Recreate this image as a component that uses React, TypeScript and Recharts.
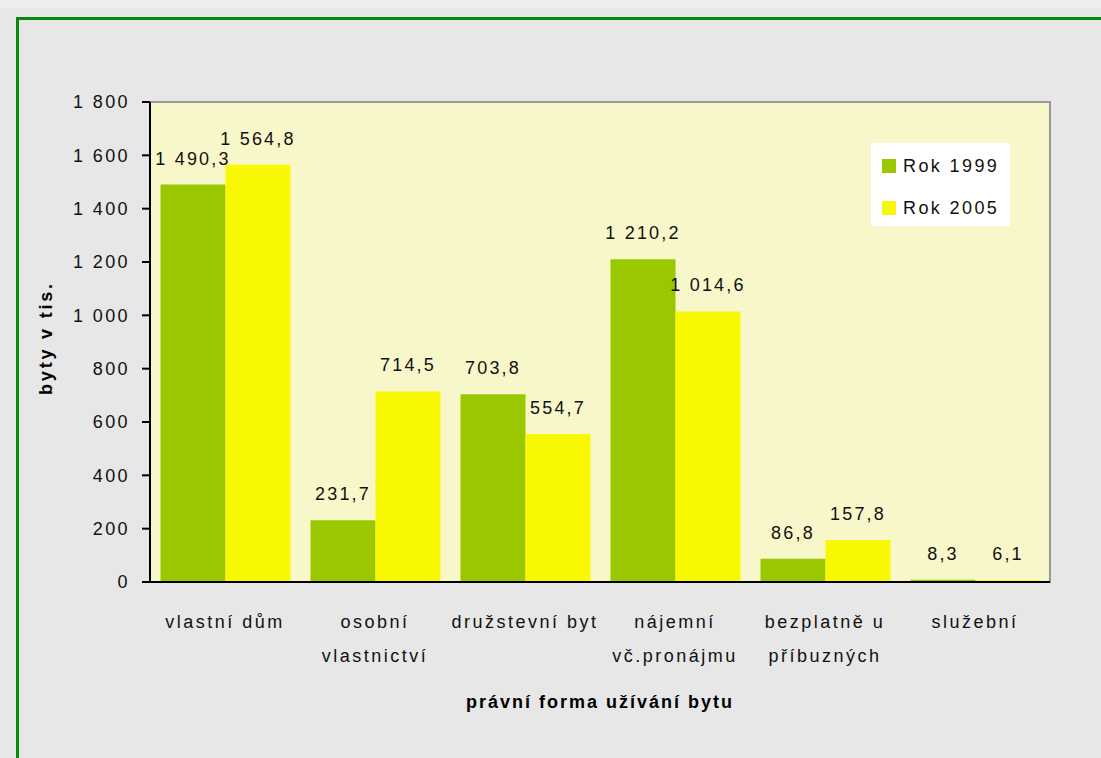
import React from "react";
import {
  ComposedChart,
  Bar,
  XAxis,
  YAxis,
  LabelList,
  Legend,
  ReferenceArea,
  Label,
} from "recharts";

const categories = [
  "vlastní dům",
  "osobní\nvlastnictví",
  "družstevní byt",
  "nájemní\nvč.pronájmu",
  "bezplatně u\npříbuzných",
  "služební",
];
const rok1999 = [1490.3, 231.7, 703.8, 1210.2, 86.8, 8.3];
const rok2005 = [1564.8, 714.5, 554.7, 1014.6, 157.8, 6.1];
const seriesNames = ["Rok 1999", "Rok 2005"];
const seriesColors = ["#99c800", "#f8f800"];
const yTicks = [0, 200, 400, 600, 800, 1000, 1200, 1400, 1600, 1800];
const boundaryTicks = [0, 1, 2, 3, 4, 5, 6];

const data = categories.map((c, i) => ({
  cat: c,
  idx: i + 0.5,
  r1999: rok1999[i],
  r2005: rok2005[i],
}));

const FONT = "'Liberation Sans', Arial, sans-serif";
const LS = 2.4;

const fmtThousands = (v: number) => {
  const s = String(Math.round(v));
  return s.replace(/\B(?=(\d{3})+(?!\d))/g, " ");
};
const fmtValue = (v: number) => {
  const [ip, dp] = v.toFixed(1).split(".");
  return ip.replace(/\B(?=(\d{3})+(?!\d))/g, " ") + "," + dp;
};

const CatTick = (props: any) => {
  const { x, y, payload } = props;
  const lines = String(payload.value).split("\n");
  return (
    <g>
      {lines.map((ln: string, i: number) => (
        <text
          key={i}
          x={x}
          y={y + 28 + i * 34}
          textAnchor="middle"
          fontFamily={FONT}
          fontSize={18}
          letterSpacing={2.5}
          fill="#111"
        >
          {ln}
        </text>
      ))}
    </g>
  );
};

const LegendBox = () => (
  <div
    style={{
      background: "#ffffff",
      width: 139,
      height: 83,
      boxSizing: "border-box",
      paddingLeft: 11,
      paddingTop: 2,
      fontFamily: FONT,
      fontSize: 18,
      letterSpacing: 2.4,
      color: "#111",
      textAlign: "left",
    }}
  >
    {seriesNames.map((n, i) => (
      <div
        key={n}
        style={{ display: "flex", alignItems: "center", height: 42 }}
      >
        <span
          style={{
            display: "inline-block",
            width: 14,
            height: 14,
            background: seriesColors[i],
            marginRight: 7,
          }}
        />
        <span>{n}</span>
      </div>
    ))}
  </div>
);

export default function App() {
  return (
    <div
      style={{
        position: "absolute",
        left: 0,
        top: 0,
        width: 1101,
        height: 758,
        background: "#e7e7e7",
        overflow: "hidden",
      }}
    >
      <div
        style={{
          position: "absolute",
          left: 0,
          top: 0,
          width: 1101,
          height: 8,
          background: "#eeeeee",
        }}
      />
      <div
        style={{
          position: "absolute",
          left: 16,
          top: 17,
          width: 1120,
          height: 760,
          border: "3px solid #0a8a0a",
          boxSizing: "border-box",
        }}
      />
      <div style={{ position: "absolute", left: 0, top: 0 }}>
        <ComposedChart
          width={1101}
          height={758}
          data={data}
          margin={{ top: 102, right: 51, left: 0, bottom: 20 }}
          barCategoryGap="7%"
          barGap={0}
        >
          <XAxis
            xAxisId="b"
            type="number"
            dataKey="idx"
            domain={[0, 6]}
            ticks={boundaryTicks}
            allowDataOverflow
            height={10}
            tickSize={8}
            tick={false}
            axisLine={{ stroke: "#000", strokeWidth: 2 }}
            tickLine={{ stroke: "#000", strokeWidth: 2 }}
          />
          <XAxis
            xAxisId="c"
            dataKey="cat"
            height={146}
            axisLine={false}
            tickLine={false}
            tick={<CatTick />}
            interval={0}
          >
            <Label
              content={(p: any) => {
                const vb = p.viewBox;
                return (
                  <text
                    x={vb.x + vb.width / 2}
                    y={708}
                    textAnchor="middle"
                    fontFamily={FONT}
                    fontSize={18}
                    fontWeight="bold"
                    letterSpacing={2}
                    fill="#000"
                  >
                    právní forma užívání bytu
                  </text>
                );
              }}
            />
          </XAxis>
          <YAxis
            width={150}
            domain={[0, 1800]}
            ticks={yTicks}
            tickFormatter={fmtThousands}
            tickSize={8}
            tickMargin={12}
            axisLine={{ stroke: "#000", strokeWidth: 2 }}
            tickLine={{ stroke: "#000", strokeWidth: 2 }}
            tick={{ fontFamily: FONT, fontSize: 18, fill: "#111", letterSpacing: LS }}
            allowDataOverflow
          >
            <Label
              content={() => (
                <text
                  x={52}
                  y={338}
                  textAnchor="middle"
                  transform="rotate(-90 52 338)"
                  fontFamily={FONT}
                  fontSize={18}
                  fontWeight="bold"
                  letterSpacing={2.8}
                  fill="#000"
                >
                  byty v tis.
                </text>
              )}
            />
          </YAxis>
          <ReferenceArea
            xAxisId="b"
            x1={0}
            x2={6}
            y1={0}
            y2={1800}
            fill="#f8f7c9"
            fillOpacity={1}
            stroke="none"
            ifOverflow="visible"
          />
          <Legend
            layout="horizontal"
            verticalAlign="middle"
            align="center"
            wrapperStyle={{ left: 871, top: 143, width: 139, height: 83 }}
            content={<LegendBox />}
          />
          <Bar
            xAxisId="c"
            dataKey="r1999"
            name={seriesNames[0]}
            fill={seriesColors[0]}
            isAnimationActive={false}
          >
            <LabelList
              dataKey="r1999"
              position="top"
              offset={20}
              formatter={(v: any) => fmtValue(Number(v))}
              style={{ fontFamily: FONT, fontSize: 18, fill: "#111", letterSpacing: 2.2 }}
            />
          </Bar>
          <Bar
            xAxisId="c"
            dataKey="r2005"
            name={seriesNames[1]}
            fill={seriesColors[1]}
            isAnimationActive={false}
          >
            <LabelList
              dataKey="r2005"
              position="top"
              offset={20}
              formatter={(v: any) => fmtValue(Number(v))}
              style={{ fontFamily: FONT, fontSize: 18, fill: "#111", letterSpacing: 2.2 }}
            />
          </Bar>
          <ReferenceArea
            xAxisId="b"
            x1={0}
            x2={6}
            y1={0}
            y2={1800}
            fill="none"
            stroke="#999"
            strokeWidth={2}
            ifOverflow="visible"
          />
        </ComposedChart>
      </div>
    </div>
  );
}
